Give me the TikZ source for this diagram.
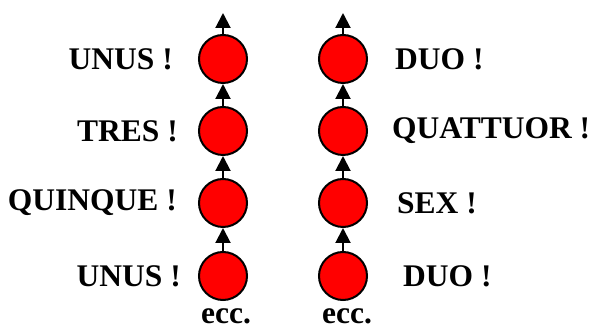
\documentclass[tikz,border=0pt]{standalone}
\usepackage{fontspec}
\setmainfont{Liberation Serif}
\usetikzlibrary{arrows.meta,positioning}

\begin{document}
\begin{tikzpicture}[x=1pt,y=1pt,>={Triangle[length=15pt,width=15pt]},
font=\fontsize{31.5}{36}\selectfont\bfseries,
ball/.style={circle,draw,line width=2pt,fill=red,minimum size=48pt,inner sep=0pt},
lab/.style={inner sep=0pt},
arr/.style={->,line width=2pt}]
\useasboundingbox (0,0) rectangle (595,329);
\node[ball] (l1) at (223,270) {};
\node[ball] (l2) at (223,198) {};
\node[ball] (l3) at (223,126) {};
\node[ball] (l4) at (223,53) {};
\node[ball] (r1) at (343,270) {};
\node[ball] (r2) at (343,198) {};
\node[ball] (r3) at (343,126) {};
\node[ball] (r4) at (343,53) {};
\coordinate (lt) at (223,316);
\coordinate (rt) at (343,316);
\node[lab,anchor=east] (unus) at (173,270) {UNUS !};
\node[lab,anchor=east] (tres) at (178,198) {TRES !};
\node[lab,anchor=east] (quinque) at (177,126) {QUINQUE !};
\node[lab,anchor=east] (unusb) at (181,53) {UNUS !};
\node[lab,anchor=west] (duo) at (395,270) {DUO !};
\node[lab,anchor=west] (quattuor) at (392,198) {QUATTUOR !};
\node[lab,anchor=west] (sex) at (397,126) {SEX !};
\node[lab,anchor=west] (duob) at (403,53) {DUO !};
\node[lab,anchor=base,text depth=0pt] (ecca) at (226,5) {ecc.};
\node[lab,anchor=base,text depth=0pt] (eccb) at (347,5) {ecc.};
\draw[arr] (l4)--(l3);
\draw[arr] (l3)--(l2);
\draw[arr] (l2)--(l1);
\draw[arr] (l1)--(lt);
\draw[arr] (r4)--(r3);
\draw[arr] (r3)--(r2);
\draw[arr] (r2)--(r1);
\draw[arr] (r1)--(rt);
\end{tikzpicture}
\end{document}
